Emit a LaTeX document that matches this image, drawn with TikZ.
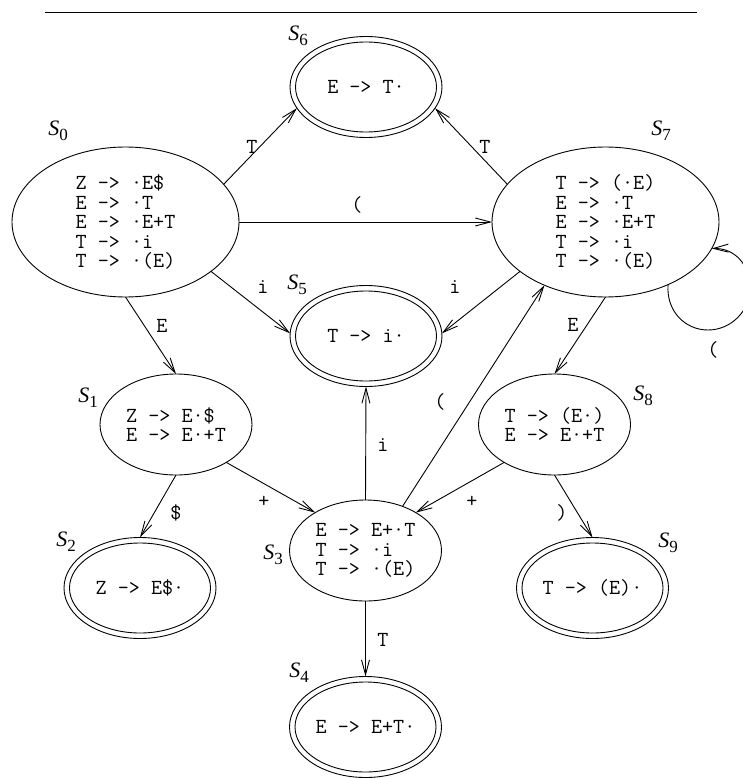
\documentclass[tikz,border=0pt]{standalone}
\usepackage{fontspec}
\setmainfont{Liberation Serif}
\usetikzlibrary{shapes.geometric,arrows.meta}
\newcommand\slab[1]{\textit{S}\raisebox{-5pt}{\fontsize{17}{17}\selectfont #1}}
\begin{document}
\begin{tikzpicture}[x=1pt,y=-1pt,
  every node/.style={inner sep=0pt, outer sep=0pt},
  st/.style={ellipse, draw, line width=0.9pt, minimum width=152pt, minimum height=101pt,
    font=\ttfamily\fontsize{21.5}{19.5}\selectfont, align=left},
  big/.style={st, minimum width=227pt, minimum height=150pt},
  inr/.style={ellipse, draw, line width=0.9pt, minimum width=141pt, minimum height=90pt},
  lab/.style={font=\fontsize{22}{22}\selectfont},
  elab/.style={font=\ttfamily\fontsize{21.5}{22}\selectfont},
  tr/.style={draw, line width=0.9pt, -{Straight Barb[length=15pt,width=8pt,line width=0.9pt]}}
]
\useasboundingbox (0,0) rectangle (743,778);
\draw[line width=0.9pt] (45,12) -- (697,12);

% states
\node[big] (s0) at (125.5,222) {Z -> ·E\$\\E -> ·T\\E -> ·E+T\\T -> ·i\\T -> ·(E)};
\node[big] (s7) at (605.5,222) {T -> (·E)\\E -> ·T\\E -> ·E+T\\T -> ·i\\T -> ·(E)};
\node[st] (s1) at (176,424.5) {Z -> E·\$\\E -> E·+T};
\node[st] (s8) at (554.5,424.5) {T -> (E·)\\E -> E·+T};
\node[st] (s3) at (365.5,550.5) {E -> E+·T\\T -> ·i\\T -> ·(E)};
\node[st] (s6) at (366,87) {E -> T·};
\node[inr] (s6i) at (366,87) {};
\node[st] (s5) at (366,336) {T -> i·};
\node[inr] (s5i) at (366,336) {};
\node[st] (s2) at (140,588) {Z -> E\$·};
\node[inr] (s2i) at (140,588) {};
\node[st] (s9) at (592.5,588) {T -> (E)·};
\node[inr] (s9i) at (592.5,588) {};
\node[st] (s4) at (365.5,727) {E -> E+T·};
\node[inr] (s4i) at (365.5,727) {};

% state labels
\node[lab] (l0) at (58,131) {\slab{0}};
\node[lab] (l1) at (88,398) {\slab{1}};
\node[lab] (l2) at (66,542) {\slab{2}};
\node[lab] (l3) at (273,555) {\slab{3}};
\node[lab] (l4) at (299,673) {\slab{4}};
\node[lab] (l5) at (297,285) {\slab{5}};
\node[lab] (l6) at (298,36) {\slab{6}};
\node[lab] (l7) at (661,131) {\slab{7}};
\node[lab] (l8) at (643,396) {\slab{8}};
\node[lab] (l9) at (668,543) {\slab{9}};

% transitions
\draw[tr] (s0.21) -- (s6.197);
\draw[tr] (s7.159) -- (s6.-17);
\draw[tr] (s0.east) -- (s7.west);
\draw[tr] (s0.-30) -- (s5.178);
\draw[tr] (s7.210) -- (s5.2);
\draw[tr] (s0.south) -- (s1.north);
\draw[tr] (s7.south) -- (s8.north);
\draw[tr] (s1.south) -- (s2.north);
\draw[tr] (s1.-37) -- (s3.143);
\draw[tr] (s8.217) -- (s3.37);
\draw[tr] (s8.south) -- (s9.north);
\draw[tr] (s3.north) -- (s5.south);
\draw[tr] (s3.50) -- (s7.226);
\draw[tr] (s3.south) -- (s4.north);
\draw[tr] (s7.-45) .. controls (666,311) and (685,330) .. (708,330)
  .. controls (731,330) and (750,311) .. (750,288)
  .. controls (750,265) and (735,248) .. (s7.-14);

% transition labels
\node[elab] (e06) at (252,147) {T};
\node[elab] (e76) at (485,147) {T};
\node[elab] (e07) at (357,205) {(};
\node[elab] (e05) at (263,287) {i};
\node[elab] (e75) at (455,287) {i};
\node[elab] (e01) at (162,326) {E};
\node[elab] (e78) at (573,325) {E};
\node[elab] (e77) at (713,350) {(};
\node[elab] (e12) at (176,513) {\$};
\node[elab] (e13) at (264,502) {+};
\node[elab] (e83) at (472,502) {+};
\node[elab] (e89) at (562,513) {)};
\node[elab] (e35) at (383,445) {i};
\node[elab] (e37) at (440,402) {(};
\node[elab] (e34) at (383,640) {T};
\end{tikzpicture}
\end{document}
